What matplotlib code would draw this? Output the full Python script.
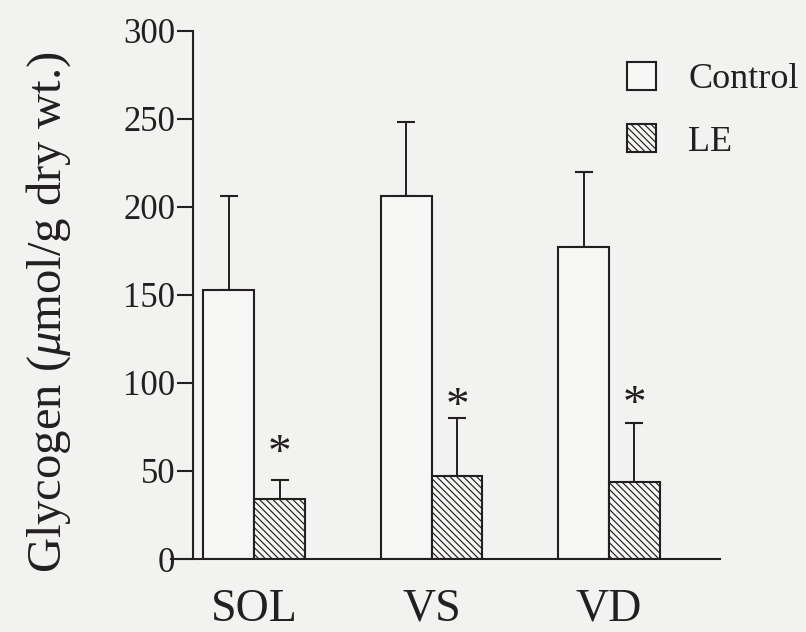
import matplotlib
matplotlib.use("Agg")
import matplotlib.pyplot as plt
from matplotlib.patches import Patch
import numpy as np

# values (umol/g dry wt.)
muscles = ["SOL", "VS", "VD"]
control = [153, 206, 177]
control_sd = [53, 42, 43]
le = [34, 47, 44]
le_sd = [11, 33, 33]
star_y = [62, 89, 90]
y_ticks = [0, 50, 100, 150, 200, 250, 300]

plt.rcParams["font.family"] = ["Liberation Serif", "DejaVu Serif"]
plt.rcParams["mathtext.fontset"] = "custom"
plt.rcParams["mathtext.rm"] = "Liberation Serif"
plt.rcParams["mathtext.it"] = "Liberation Serif:italic"
plt.rcParams["hatch.linewidth"] = 0.85

ink = "#231f20"
paper = "#f2f2f0"
plt.rcParams["hatch.color"] = ink

fig = plt.figure(figsize=(8.06, 6.32), dpi=100, facecolor=paper)
ax = fig.add_axes([0.2122, 0.1155, 0.681, 0.8355])
ax.set_facecolor("none")

x = np.arange(len(muscles))
w = 0.287
hatch = "\\\\\\\\\\"

ax.bar(x - w / 2, control, w, facecolor="#f6f6f4", edgecolor=ink, linewidth=1.5,
       label="Control", zorder=2)
ax.bar(x + w / 2, le, w, facecolor="#f6f6f4", edgecolor=ink, linewidth=1.5,
       hatch=hatch, label="LE", zorder=2)

# upper error bars only
ax.errorbar(x - w / 2, control, yerr=[np.zeros(3), control_sd], fmt="none",
            ecolor=ink, elinewidth=1.4, capsize=6.8, capthick=1.5, zorder=1)
ax.errorbar(x + w / 2, le, yerr=[np.zeros(3), le_sd], fmt="none",
            ecolor=ink, elinewidth=1.4, capsize=6.8, capthick=1.5, zorder=1)

for xi, sy in zip(x, star_y):
    ax.text(xi + w / 2, sy, "*", ha="center", va="center_baseline",
            fontsize=34, color=ink)

ax.set_xlim(-0.468, 2.625)
ax.set_ylim(0, 300)
ax.set_yticks(y_ticks)
ax.set_xticks(x)
ax.set_xticklabels(muscles, fontsize=33, color=ink)
ax.tick_params(axis="x", length=0, pad=21)
ax.tick_params(axis="y", direction="out", length=11.5, width=1.5, pad=1.4,
               labelsize=25, colors=ink)

for s in ["top", "right"]:
    ax.spines[s].set_visible(False)
ax.spines["left"].set_position(("data", -0.344))
for s in ["left", "bottom"]:
    ax.spines[s].set_linewidth(1.5)
    ax.spines[s].set_color(ink)

fig.text(49 / 806, 1 - 312 / 632, r"Glycogen ($\mu$mol/g dry wt.)",
         rotation=90, ha="center", va="center", fontsize=35, color=ink)

handles = [Patch(facecolor="#f6f6f4", edgecolor=ink, linewidth=1.5),
           Patch(facecolor="#f6f6f4", edgecolor=ink, linewidth=1.5, hatch=hatch)]
fig.legend(handles, ["Control", "LE"], loc="upper left",
           bbox_to_anchor=(627 / 806, 1 - 62 / 632), frameon=False,
           fontsize=26, handlelength=0.8, handleheight=0.8,
           handletextpad=0.9, labelspacing=0.77, borderpad=0, borderaxespad=0,
           labelcolor=ink)

fig.savefig("out.png", dpi=100, facecolor=paper)
